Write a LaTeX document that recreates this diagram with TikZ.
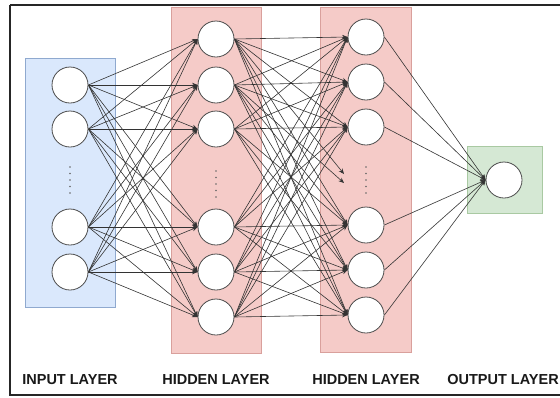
\documentclass[tikz,border=0pt]{standalone}
\usepackage{fontspec}
\setmainfont{Liberation Sans}
\usetikzlibrary{arrows.meta,backgrounds}
\definecolor{inblue}{HTML}{DAE8FC}
\definecolor{inbluedraw}{HTML}{8FA9CF}
\definecolor{hidred}{HTML}{F5CBC8}
\definecolor{hidreddraw}{HTML}{D9A09C}
\definecolor{outgreen}{HTML}{D5E8D4}
\definecolor{outgreendraw}{HTML}{A9C9A2}
\definecolor{edgecol}{HTML}{333333}
\tikzset{
  neuron/.style={circle, draw=black!70, fill=white, line width=0.8pt, minimum size=36pt, inner sep=0pt},
  layerbox/.style={line width=0.6pt},
  conn/.style={draw=edgecol, line width=0.6pt, -{Stealth[length=5.5pt,width=4.5pt]}},
  lbl/.style={font=\fontsize{14.5}{16}\selectfont\bfseries, text=black!90, inner sep=0pt},
  vdot/.style={circle, fill=black!60, inner sep=0pt, minimum size=1.8pt}
}
\begin{document}
\begin{tikzpicture}[x=1pt,y=-1pt]
\useasboundingbox (0,0) rectangle (560,397);
% neurons
\node[neuron] (i1) at (70,85) {};
\node[neuron] (i2) at (70,129) {};
\node[neuron] (i3) at (70,227) {};
\node[neuron] (i4) at (70,272) {};
\node[neuron] (a1) at (216,39) {};
\node[neuron] (a2) at (216,85) {};
\node[neuron] (a3) at (216,129) {};
\node[neuron] (a4) at (216,227) {};
\node[neuron] (a5) at (216,272) {};
\node[neuron] (a6) at (216,317) {};
\node[neuron] (b1) at (366,37) {};
\node[neuron] (b2) at (366,82) {};
\node[neuron] (b3) at (366,127) {};
\node[neuron] (b4) at (366,225) {};
\node[neuron] (b5) at (366,270) {};
\node[neuron] (b6) at (366,315) {};
\node[neuron] (o1) at (504,180) {};
\coordinate (x1) at (344,174);
\coordinate (x2) at (344,183);
\begin{scope}[on background layer]
% frame
\draw[line width=2pt, black!85] (10,5) -- (566,5);
\draw[line width=2pt, black!85] (10,5) -- (10,395) -- (566,395);
% layer boxes
\filldraw[layerbox, fill=inblue, draw=inbluedraw] (25,58) rectangle (115,307);
\filldraw[layerbox, fill=hidred, draw=hidreddraw] (171,7) rectangle (261,353);
\filldraw[layerbox, fill=hidred, draw=hidreddraw] (320,7) rectangle (411,352);
\filldraw[layerbox, fill=outgreen, draw=outgreendraw] (467,146) rectangle (542,213);
% connections
\foreach \s in {i1,i2,i3,i4}{
  \foreach \t in {a1,a2,a3,a4,a5,a6}{
    \draw[conn] (\s.east) -- (\t.west);
  }
}
\foreach \s in {a1,a2,a3,a4,a5,a6}{
  \foreach \t in {b1,b2,b3,b4,b5,b6}{
    \draw[conn] (\s.east) -- (\t.west);
  }
}
\draw[conn] (a1.east) -- (x1);
\draw[conn] (a2.east) -- (x2);
\foreach \s in {b1,b2,b3,b4,b5,b6}{
  \draw[conn] (\s.east) -- (o1.west);
}
\end{scope}
% dots
\foreach \k in {0,...,4}{
  \node[vdot] (di\k) at (70,167+6.5*\k) {};
  \node[vdot] (da\k) at (216,171+6.5*\k) {};
  \node[vdot] (db\k) at (366,167+6.5*\k) {};
}
% labels
\node[lbl] (l1) at (70,380) {INPUT LAYER};
\node[lbl] (l2) at (216,380) {HIDDEN LAYER};
\node[lbl] (l3) at (366,380) {HIDDEN LAYER};
\node[lbl] (l4) at (503,380) {OUTPUT LAYER};
\end{tikzpicture}
\end{document}
